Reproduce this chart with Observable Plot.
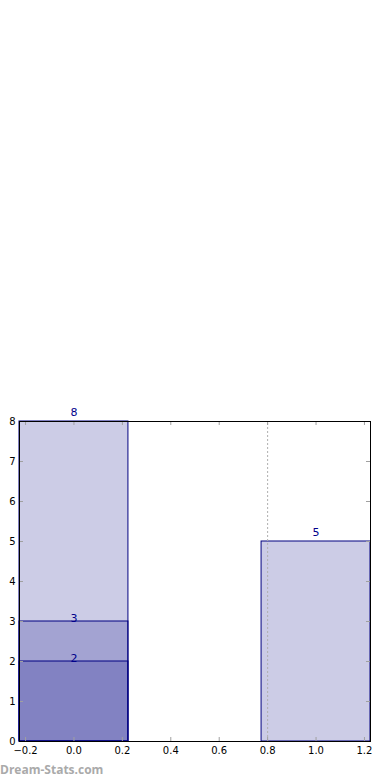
<!DOCTYPE html>
<html>
<head>
<meta charset="utf-8">
<script src="https://cdn.jsdelivr.net/npm/d3@7"></script>
<script src="https://cdn.jsdelivr.net/npm/@observablehq/plot@0.6"></script>
<style>
  html, body { margin: 0; padding: 0; background: #fff; }
  #wrap { position: relative; width: 390px; height: 780px; }
  #wm { position: absolute; left: 0; top: 761px; font-family: "Open Sans", sans-serif; font-weight: bold; font-size: 12px; color: #aaa; }
</style>
</head>
<body>
<div id="wrap"><div id="chart"></div><div id="wm">Dream-Stats.com</div></div>
<script>
// Data
const barPositions = [0, 0, 0, 1];
const barValues = [8, 3, 2, 5];
const xTicks = [-0.2, 0.0, 0.2, 0.4, 0.6, 0.8, 1.0, 1.2];
const yTicks = [0, 1, 2, 3, 4, 5, 6, 7, 8];
const refLine = [0.8];

const halfW = 0.225;
const bars = barPositions.map((p, i) => ({x: p, v: barValues[i]}));
const topOf = d3.rollup(bars, g => d3.max(g, d => d.v), d => d.x);
bars.forEach(d => { d.top = d.v === topOf.get(d.x); });
const xDom = [-0.225, 1.225];
const yDom = [0, 8];
const tkX = 4 / 242; // inward tick length in x units
const tkY = 4 / 40;  // inward tick length in y units

const chart = Plot.plot({
  width: 390,
  height: 780,
  marginLeft: 19,
  marginRight: 20,
  marginTop: 421,
  marginBottom: 39,
  style: {fontFamily: "DejaVu Sans, sans-serif", fontSize: "10px", color: "black", background: "white"},
  x: {type: "linear", domain: xDom, ticks: xTicks, tickSize: 0, tickPadding: 5, tickFormat: d3.format(".1f"), label: null},
  y: {type: "linear", domain: yDom, ticks: yTicks, tickSize: 0, tickPadding: 4, tickFormat: d3.format("d"), label: null},
  marks: [
    Plot.rectY(bars, {x1: d => d.x - halfW, x2: d => d.x + halfW, y1: 0, y2: "v", fill: "#000080", fillOpacity: 0.2, stroke: "#000080", strokeWidth: 1}),
    Plot.ruleX(refLine, {x: d => d, y1: 0, y2: 8, stroke: "#b0b0b0", strokeDasharray: "2,2"}),
    // inward ticks
    Plot.ruleX(xTicks, {x: d => d, y1: 0, y2: tkY, stroke: "#a0a0a0"}),
    Plot.ruleX(xTicks, {x: d => d, y1: 8, y2: 8 - tkY, stroke: "#a0a0a0"}),
    Plot.ruleY(yTicks, {y: d => d, x1: xDom[0], x2: xDom[0] + tkX, stroke: "#a0a0a0"}),
    Plot.ruleY(yTicks, {y: d => d, x1: xDom[1], x2: xDom[1] - tkX, stroke: "#a0a0a0"}),
    Plot.text(bars.filter(d => d.top), {x: "x", y: "v", text: d => String(d.v), lineAnchor: "bottom", dy: -6, fill: "#00008b", fontSize: 11}),
    Plot.text(bars.filter(d => !d.top), {x: "x", y: "v", text: d => String(d.v), lineAnchor: "bottom", dy: 0, fill: "#00008b", fontSize: 11}),
    Plot.frame({stroke: "black"})
  ]
});
document.getElementById("chart").appendChild(chart);
</script>
</body>
</html>
